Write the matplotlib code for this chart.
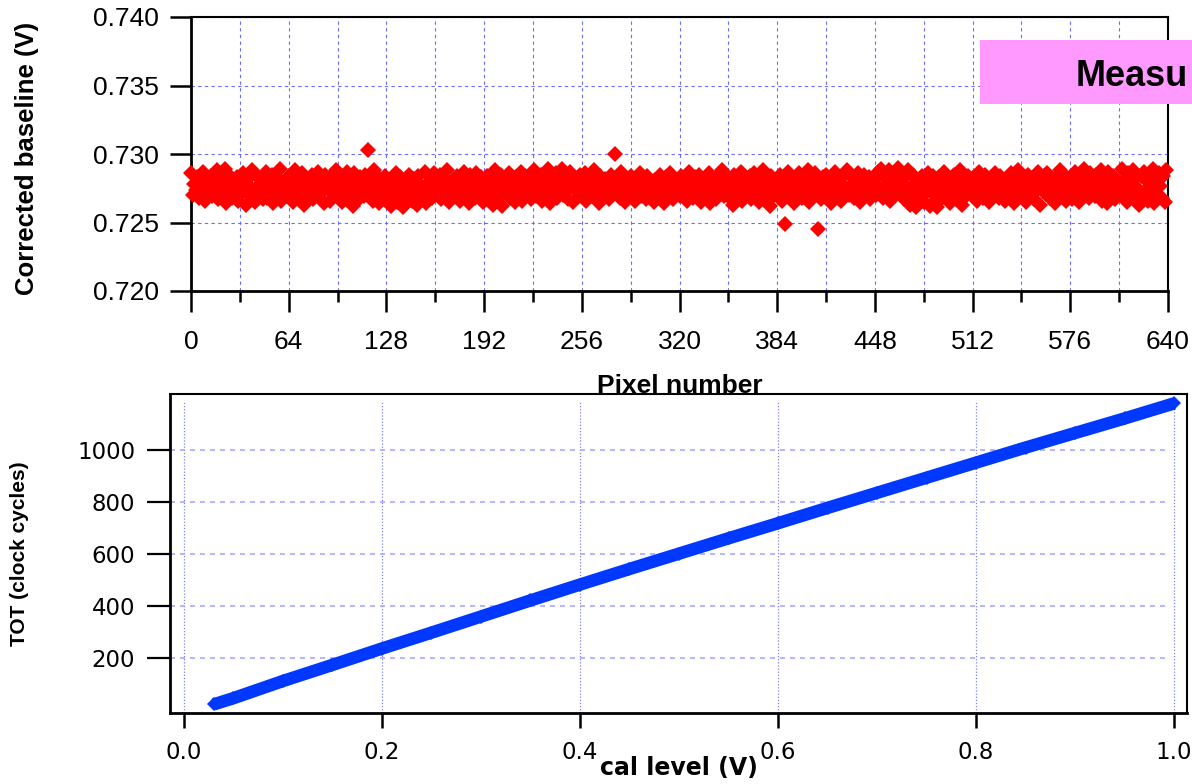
import numpy as np
import matplotlib

matplotlib.use("Agg")
import matplotlib.pyplot as plt
from matplotlib import font_manager
from matplotlib.patches import Rectangle
from matplotlib.ticker import FixedLocator, MultipleLocator, FormatStrFormatter

# corrected baseline per pixel, in units of 0.1 mV above 0.720 V
baseline_offset = [
    86, 70, 78, 74, 83, 68, 80, 72, 87, 66, 76, 81, 71, 84, 69, 79,
    73, 88, 67, 82, 75, 70, 89, 64, 78, 85, 72, 68, 80, 76, 83, 66,
    79, 71, 86, 74, 63, 81, 77, 69, 88, 73, 65, 84, 70, 78, 82, 67,
    75, 87, 68, 80, 72, 85, 64, 77, 83, 70, 89, 66, 79, 74, 81, 69,
    84, 71, 76, 65, 88, 73, 80, 68, 78, 86, 63, 75, 82, 70, 77, 85,
    67, 79, 74, 87, 69, 81, 72, 64, 85, 76, 80, 66, 83, 71, 78, 88,
    70, 76, 84, 65, 79, 73, 87, 68, 81, 75, 62, 86, 72, 80, 67, 83,
    77, 69, 85, 74, 103, 71, 80, 66, 88, 73, 78, 64, 82, 76, 70, 84,
    68, 75, 81, 62, 79, 72, 86, 65, 77, 83, 70, 61, 80, 74, 67, 85,
    73, 66, 82, 78, 63, 84, 71, 76, 69, 87, 64, 79, 75, 81, 68, 86,
    80, 72, 77, 85, 67, 83, 74, 70, 88, 65, 79, 76, 82, 69, 84, 73,
    66, 81, 75, 87, 70, 78, 64, 85, 72, 80, 68, 86, 74, 77, 83, 65,
    79, 71, 84, 67, 82, 76, 63, 88, 73, 78, 69, 85, 62, 80, 75, 70,
    86, 68, 77, 81, 65, 83, 72, 79, 87, 66, 74, 84, 70, 78, 82, 67,
    75, 88, 69, 80, 73, 85, 66, 82, 77, 71, 89, 64, 79, 83, 72, 86,
    68, 81, 76, 89, 70, 84, 74, 67, 87, 78, 65, 82, 73, 80, 69, 85,
    77, 72, 86, 66, 80, 75, 83, 69, 88, 71, 78, 64, 84, 76, 70, 82,
    74, 81, 67, 85, 79, 72, 100, 76, 83, 68, 87, 73, 65, 80, 77, 71,
    84, 70, 78, 66, 82, 75, 86, 69, 73, 80, 67, 84, 76, 71, 79, 65,
    81, 74, 68, 85, 72, 79, 64, 83, 77, 70, 86, 75, 67, 82, 73, 78,
    69, 84, 76, 72, 80, 66, 87, 74, 79, 68, 83, 71, 77, 85, 65, 80,
    75, 82, 70, 86, 64, 78, 73, 81, 67, 84, 76, 71, 88, 69, 79, 74,
    83, 68, 77, 63, 85, 72, 80, 75, 87, 66, 78, 82, 70, 74, 84, 67,
    79, 86, 71, 76, 65, 83, 73, 88, 68, 80, 75, 62, 84, 77, 70, 81,
    72, 78, 85, 66, 80, 49, 74, 87, 69, 83, 76, 64, 81, 71, 86, 75,
    68, 84, 77, 73, 88, 65, 79, 82, 70, 86, 74, 45, 80, 67, 83, 76,
    85, 71, 78, 64, 82, 75, 87, 69, 80, 73, 66, 84, 77, 72, 88, 70,
    76, 83, 68, 80, 74, 86, 65, 79, 72, 85, 77, 70, 83, 67, 81, 75,
    82, 70, 87, 75, 89, 68, 84, 78, 73, 88, 66, 80, 76, 85, 71, 90,
    74, 86, 79, 67, 83, 72, 88, 63, 77, 85, 70, 61, 81, 74, 68, 84,
    65, 79, 73, 86, 62, 78, 84, 70, 76, 61, 83, 75, 68, 87, 72, 80,
    77, 64, 82, 71, 85, 67, 79, 74, 88, 63, 80, 76, 69, 84, 73, 81,
    70, 83, 76, 66, 87, 74, 80, 68, 85, 72, 78, 65, 82, 77, 71, 86,
    79, 68, 84, 73, 80, 66, 77, 83, 70, 86, 75, 64, 81, 74, 88, 69,
    83, 72, 78, 65, 85, 76, 70, 82, 67, 79, 74, 87, 63, 80, 73, 84,
    71, 86, 75, 68, 81, 77, 64, 83, 72, 88, 69, 78, 85, 66, 80, 74,
    82, 67, 79, 87, 73, 84, 65, 78, 76, 89, 70, 81, 68, 86, 74, 77,
    69, 85, 72, 80, 88, 66, 83, 75, 64, 87, 71, 79, 84, 67, 82, 76,
    78, 70, 89, 74, 81, 65, 86, 72, 79, 88, 68, 83, 75, 63, 84, 71,
    87, 73, 80, 66, 85, 76, 89, 64, 82, 70, 86, 77, 68, 84, 65, 88,
]
pixel_ticks = [0, 64, 128, 192, 256, 320, 384, 448, 512, 576, 640]
baseline_ticks = [0.720, 0.725, 0.730, 0.735, 0.740]

cal_level = [0.03, 0.05, 0.10, 0.15, 0.20, 0.25, 0.30, 0.35, 0.40, 0.45, 0.50,
             0.55, 0.60, 0.65, 0.70, 0.75, 0.80, 0.85, 0.90, 0.95, 1.00]
tot_cycles = [20, 44, 110, 172, 235, 296, 358, 420, 481, 541, 600,
              659, 717, 776, 834, 892, 950, 1008, 1064, 1120, 1178]
cal_ticks = [0.0, 0.2, 0.4, 0.6, 0.8, 1.0]
tot_ticks = [200, 400, 600, 800, 1000]

plt.rcParams["font.family"] = ["Liberation Sans", "DejaVu Sans"]

W, H = 1192, 784
fig = plt.figure(figsize=(W / 100, H / 100), dpi=100)


def frac(left, top, right, bottom):
    return [left / W, 1 - bottom / H, (right - left) / W, (bottom - top) / H]


# ---- top panel: corrected baseline ----
ax1 = fig.add_axes(frac(191, 17, 1168, 291))
ax1.set_zorder(2)
ax1.patch.set_alpha(0)
pixels = np.arange(len(baseline_offset))
baseline = 0.720 + np.array(baseline_offset) * 1e-4
ax1.plot(pixels, baseline, "D", color="#ff0000", ms=8, mew=0, clip_on=False, zorder=3)
ax1.set_xlim(0, 640)
ax1.set_ylim(0.720, 0.740)
ax1.xaxis.set_major_locator(FixedLocator(pixel_ticks))
ax1.xaxis.set_minor_locator(MultipleLocator(32))
ax1.yaxis.set_major_locator(FixedLocator(baseline_ticks))
ax1.yaxis.set_major_formatter(FormatStrFormatter("%.3f"))
ax1.grid(which="both", axis="x", color="#6b6bff", linestyle=(0, (3, 3)), lw=0.8)
ax1.grid(which="major", axis="y", color="#6b6bff", linestyle=(0, (3, 3)), lw=0.8)
ax1.tick_params(which="major", direction="out", length=15, width=1.8, labelsize=19)
ax1.tick_params(axis="x", which="major", pad=13)
ax1.tick_params(axis="y", which="major", pad=8)
ax1.tick_params(axis="x", which="minor", direction="out", length=8, width=1.8)
for side in ("left", "bottom"):
    ax1.spines[side].set_linewidth(2.0)
for side in ("top", "right"):
    ax1.spines[side].set_linewidth(1.5)
ax1.set_ylabel("Corrected baseline (V)", fontsize=18.5, fontweight="bold", va="center")
ax1.yaxis.set_label_coords(-0.168, 0.482)
ax1.set_xlabel("Pixel number", fontsize=19, fontweight="bold", va="baseline")
ax1.xaxis.set_label_coords(0.5, -0.372)

# pink "Measu" banner cut by the right edge
fig.patches.append(Rectangle((980 / W, 1 - 104 / H), (W - 980) / W, 64 / H,
                             transform=fig.transFigure, facecolor="#ff99ff",
                             edgecolor="none", zorder=5))
fig.text(1076 / W, 1 - 86 / H, "Measu", fontsize=26, fontweight="bold",
         ha="left", va="baseline", zorder=6)

# ---- bottom panel: TOT vs cal level ----
ax2 = fig.add_axes(frac(170, 394, 1187, 713))
ax2.plot(cal_level, tot_cycles, "-D", color="#0038ff", lw=9, ms=7, mew=0,
         solid_capstyle="butt", zorder=3)
ax2.set_xlim(-0.014, 1.013)
ax2.set_ylim(-13, 1214)
ax2.xaxis.set_major_locator(FixedLocator(cal_ticks))
ax2.xaxis.set_major_formatter(FormatStrFormatter("%.1f"))
ax2.yaxis.set_major_locator(FixedLocator(tot_ticks))
ax2.vlines(cal_ticks, -13, 1185, colors="#8080ff", linestyles=(0, (1, 1.5)), lw=0.9, zorder=1)
ax2.hlines(tot_ticks, -0.014, 0.995, colors="#a8a8ff", linestyles=(0, (3, 3)), lw=1.2, zorder=1)
ax2.tick_params(axis="y", direction="out", length=16.5, width=1.6, pad=8.5)
ax2.tick_params(axis="x", direction="out", length=11, width=1.8, pad=9)
for label in ax2.get_xticklabels() + ax2.get_yticklabels():
    label.set_family("DejaVu Sans")
    label.set_fontsize(16.5)
for side in ("left", "bottom"):
    ax2.spines[side].set_linewidth(2.0)
for side in ("top", "right"):
    ax2.spines[side].set_linewidth(1.5)

try:
    font_manager.findfont("Liberation Sans Narrow", fallback_to_default=False)
    tot_font = {"family": "Liberation Sans Narrow", "size": 18}
except ValueError:
    tot_font = {"family": "Liberation Sans", "size": 15}
ax2.set_ylabel("TOT (clock cycles)", fontweight="bold", va="center", **tot_font)
ax2.yaxis.set_label_coords(-0.1475, 0.5)
ax2.set_xlabel("cal level (V)", fontsize=17, fontweight="bold",
               family="DejaVu Sans", va="baseline")
ax2.xaxis.set_label_coords(0.5, -0.194)

fig.savefig("out.png", dpi=100)
